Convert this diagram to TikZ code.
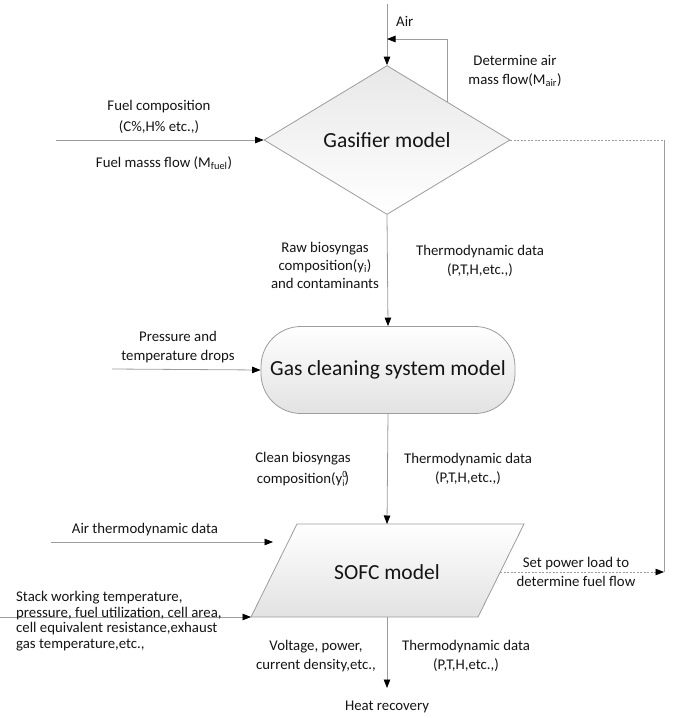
\documentclass[tikz,border=0pt]{standalone}
\usepackage{fontspec}
\setmainfont{Carlito}
\usetikzlibrary{shapes.geometric,arrows.meta,calc}
\definecolor{linegray}{HTML}{9C9C9C}
\definecolor{fillgray}{HTML}{E2E2E2}
\definecolor{txt}{HTML}{141414}
\newcommand{\subsupmark}{\rlap{\raisebox{6pt}{\fontsize{9.5}{10}\selectfont 0}}\raisebox{-2.5pt}{\fontsize{9.5}{10}\selectfont i}}
\begin{document}
\begin{tikzpicture}[x=1pt,y=-1pt,
  tip/.tip={Triangle[length=8.5pt,width=6.5pt,color=black]},
  conn/.style={draw=linegray, line width=0.8pt, -tip},
  plainline/.style={draw=linegray, line width=0.8pt},
  dashline/.style={draw=linegray, line width=0.8pt, dash pattern=on 2pt off 1.5pt},
  lbl/.style={font=\fontsize{14.8}{19}\selectfont, align=center, inner sep=0pt, text=txt},
  bigtxt/.style={font=\fontsize{21.5}{25}\selectfont, text=txt},
  shapebox/.style={draw=linegray, line width=0.8pt, top color=white, bottom color=fillgray}
]
\useasboundingbox (0,0) rectangle (675,718);

% shapes
\node[diamond, draw=linegray, line width=0.8pt, top color=fillgray!80, bottom color=white,
      minimum width=246pt, minimum height=149pt, inner sep=0pt, bigtxt] (gas) at (387,140) {Gasifier model};
\node[shapebox, rounded corners=40pt, minimum width=254pt, minimum height=87pt, bigtxt] (clean) at (388,370) {Gas cleaning system model};
\coordinate (s1) at (297,524);
\coordinate (s2) at (524,524);
\coordinate (s3) at (478,617);
\coordinate (s4) at (251,617);
\path[shapebox] (s1) -- (s2) -- (s3) -- (s4) -- cycle;
\node[bigtxt] (sofc) at (387,572) {SOFC model};
\coordinate (sofcT) at (387,524);
\coordinate (sofcB) at (387,617);
\coordinate (sofcR) at (500,572);

% air in and feedback
\coordinate (airtop) at (387,4);
\draw[conn] (airtop) -- (gas.north);
\node[lbl, anchor=west] (airlbl) at (396,21) {Air};
\coordinate (fbA) at ($(gas.north)!0.488!(gas.east)$);
\coordinate (airjoin) at (387,39);
\draw[conn] (fbA) |- (airjoin);
\node[lbl] (detlbl) at (515,71) {Determine air\\mass flow(M\textsubscript{air})};

% fuel
\coordinate (fuelstart) at (56,140);
\draw[conn] (fuelstart) -- (gas.west);
\node[lbl, font=\fontsize{14.8}{21}\selectfont] (fuelcomp) at (159,117) {Fuel composition\\(C\%,H\% etc.,)};
\node[lbl] (fuelflow) at (164,163) {Fuel masss flow (M\textsubscript{fuel})};

% dashed feedback from SOFC
\coordinate (rc1) at (664,140);
\coordinate (rc2) at (664,572);
\draw[dashline] (gas.east) -- (rc1);
\draw[plainline] (rc1) -- (rc2);
\draw[dashline, -tip] (sofcR) -- (rc2);
\node[lbl] (setlbl) at (576,572) {Set power load to\\determine fuel flow};

% gasifier -> cleaning
\draw[conn] (gas.south) -- (clean.north);
\node[lbl, font=\fontsize{14.8}{18}\selectfont] (rawlbl) at (325,265) {Raw biosyngas\\composition(y\textsubscript{i})\\and contaminants};
\node[lbl] (thermo1) at (480,261) {Thermodynamic data\\(P,T,H,etc.,)};

% pressure drops
\coordinate (pstart) at (112,369);
\draw[conn] (pstart) -- (clean.west);
\node[lbl] (plbl) at (178,347) {Pressure and\\temperature drops};

% cleaning -> SOFC
\draw[conn] (clean.south) -- (sofcT);
\node[lbl, font=\fontsize{14.8}{21.5}\selectfont] (cleanlbl) at (303,469) {Clean biosyngas\\composition(y\subsupmark)};
\node[lbl] (thermo2) at (468,469) {Thermodynamic data\\(P,T,H,etc.,)};

% air thermodynamic data
\coordinate (airA) at (51,542);
\coordinate (airB) at (273,542);
\draw[conn] (airA) -- (airB);
\node[lbl] (airthlbl) at (145,530) {Air thermodynamic data};

% stack parameters
\coordinate (stackA) at (0,617);
\draw[conn] (stackA) -- (s4);
\node[lbl, align=left, anchor=west, font=\fontsize{14.8}{15.6}\selectfont] (stacklbl) at (16,621)
  {Stack working temperature,\\pressure, fuel utilization, cell area,\\cell equivalent resistance,exhaust\\gas temperature,etc.,};

% SOFC -> heat recovery
\coordinate (heatP) at (387,688);
\draw[conn] (sofcB) -- (heatP);
\node[lbl] (voltlbl) at (316,656) {Voltage, power,\\current density,etc.,};
\node[lbl] (thermo3) at (466,656) {Thermodynamic data\\(P,T,H,etc.,)};
\node[lbl] (heatlbl) at (387,707) {Heat recovery};
\end{tikzpicture}
\end{document}
